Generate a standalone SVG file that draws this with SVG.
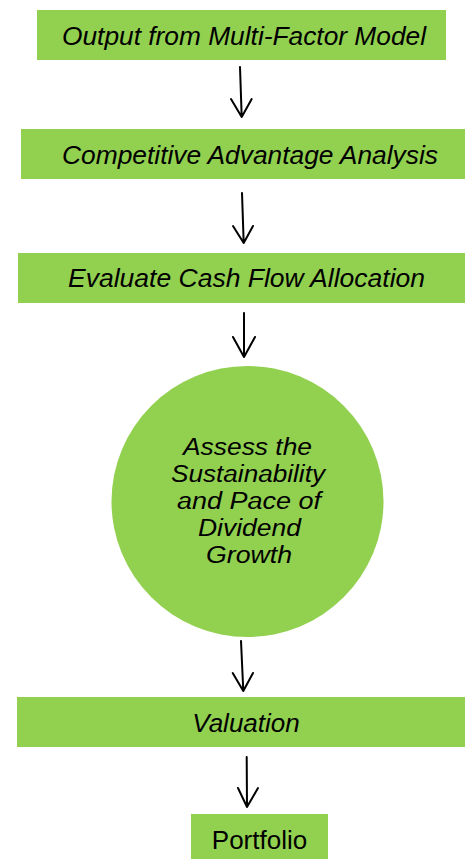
<svg xmlns="http://www.w3.org/2000/svg" width="465" height="859" viewBox="0 0 465 859">
<style>
.box{fill:#92D050;}
.t{font-family:"Liberation Sans",Arial,sans-serif;font-size:26px;fill:#000;text-anchor:middle;}
.c{font-size:23.5px;}
.i{font-style:italic;}
.arr{fill:none;stroke:#000;stroke-width:2;stroke-linecap:round;stroke-linejoin:round;}
</style>
<rect width="465" height="859" fill="#fff"/>
<g id="n1"><rect class="box" x="37" y="10" width="409" height="50"/><text class="t i" x="244" y="45" textLength="364" lengthAdjust="spacingAndGlyphs">Output from Multi-Factor Model</text></g>
<g id="n2"><rect class="box" x="21" y="129" width="444" height="50"/><text class="t i" x="250" y="164" textLength="376" lengthAdjust="spacingAndGlyphs">Competitive Advantage Analysis</text></g>
<g id="n3"><rect class="box" x="18" y="253" width="447" height="50"/><text class="t i" x="246.5" y="287" textLength="357" lengthAdjust="spacingAndGlyphs">Evaluate Cash Flow Allocation</text></g>
<g id="n4"><ellipse class="box" cx="247.5" cy="501.5" rx="136" ry="135.5"/>
<text class="t i c" x="247.5" y="455" textLength="129" lengthAdjust="spacingAndGlyphs">Assess the</text>
<text class="t i c" x="248" y="482" textLength="154" lengthAdjust="spacingAndGlyphs">Sustainability</text>
<text class="t i c" x="249" y="509" textLength="144" lengthAdjust="spacingAndGlyphs">and Pace of</text>
<text class="t i c" x="249.5" y="536" textLength="103" lengthAdjust="spacingAndGlyphs">Dividend</text>
<text class="t i c" x="249" y="563" textLength="86" lengthAdjust="spacingAndGlyphs">Growth</text></g>
<g id="n5"><rect class="box" x="17" y="697" width="448" height="50"/><text class="t i" x="246" y="732">Valuation</text></g>
<g id="n6"><rect class="box" x="191" y="814" width="137" height="45"/><text class="t" x="259.5" y="849">Portfolio</text></g>
<g id="connectors">
<path class="arr" d="M240 67 L241.7 117 M231 99 L241.7 117 L251.7 99"/>
<path class="arr" d="M242 193 L243.7 243 M233 226 L243.7 243 L253 226"/>
<path class="arr" d="M244 313 L244 357 M233 337 L244 357 L255 337"/>
<path class="arr" d="M241 641 L243.3 691 M232.7 673 L243.3 691 L253 673"/>
<path class="arr" d="M246.7 757 L247 807 M238 788 L247 807 L258 788"/>
</g>
</svg>
